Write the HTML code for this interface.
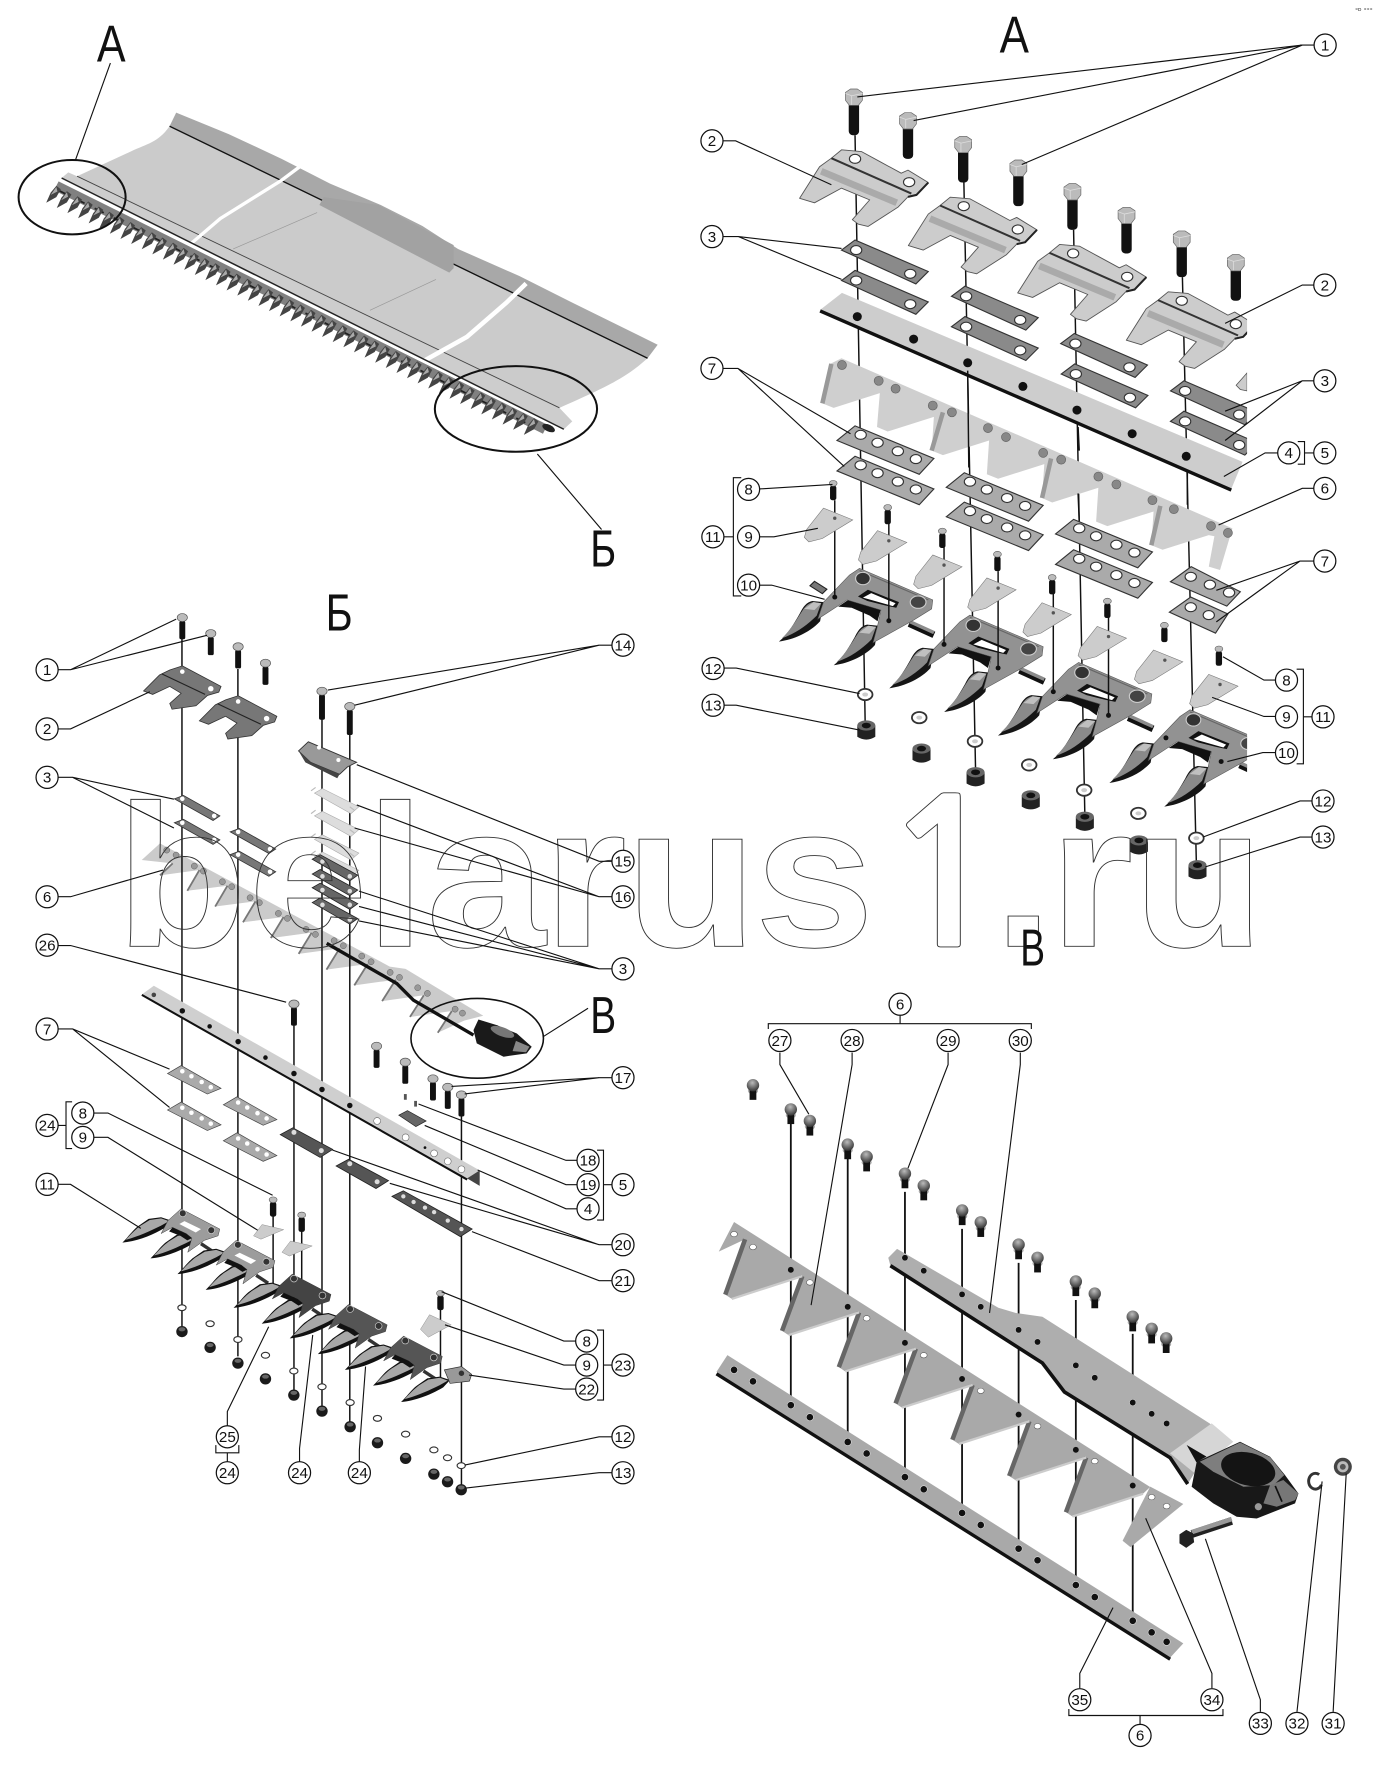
<!DOCTYPE html>
<html><head><meta charset="utf-8"><style>
html,body{margin:0;padding:0;background:#fff;width:1380px;height:1775px;overflow:hidden}
svg{display:block}
.l{stroke:#111;stroke-width:1;fill:none}
.c{stroke:#111;stroke-width:1.1;fill:#fff}
.t text{font:13.5px "Liberation Sans",sans-serif;text-anchor:middle;fill:#111}
.big{font:46px "Liberation Sans","Noto Sans CJK SC",sans-serif;fill:#111}
.v{stroke:#111;stroke-width:1.3;fill:none}
</style></head><body>
<svg xmlns="http://www.w3.org/2000/svg" width="1380" height="1775" viewBox="0 0 1225 1575.6">
<defs>
<clipPath id="clipA"><rect x="600" y="0" width="507" height="900"/></clipPath>
<radialGradient id="rg" cx=".45" cy=".3" r=".7"><stop offset="0" stop-color="#bbb"/><stop offset="1" stop-color="#333"/></radialGradient>
<g id="tooth"><path d="M0,0L4,-9L9,-15L13,-12L9,-5Z" fill="#444"/><path d="M4,-7L9,-14L10,-10Z" fill="#aaa"/></g>
<g id="b"><rect x="-4.6" y="4" width="9.2" height="30" rx="3.6" fill="#111"/><path d="M-7.5,-4L-3,-7L3,-7L7.5,-4L7.5,3L4,7.5L-4,7.5L-7.5,3Z" fill="#bbb" stroke="#666" stroke-width=".6"/><path d="M-7.5,-3L-2,-1L-2,7M-2,-1L7.5,-3" stroke="#ddd" stroke-width=".7" fill="none"/></g>
<g id="c"><rect x="-2.8" y="2" width="5.6" height="13" rx="2" fill="#111"/><ellipse rx="3.5" ry="2.6" fill="#bbb" stroke="#555" stroke-width=".5"/></g>
<g id="n"><path d="M-8,-5L-8,5Q0,10 8,5L8,-5Z" fill="#222"/><ellipse cy="-5" rx="8" ry="4.5" fill="#666"/><ellipse cy="-5" rx="4" ry="2.5" fill="#111"/></g>
<g id="w"><ellipse rx="6.5" ry="5" fill="#fff" stroke="#333" stroke-width="1.6"/><ellipse rx="2.6" ry="1.8" fill="#ccc"/></g>
<g id="p2"><path d="M-12,-8L5.6,-6.5L22,2.4L41,12.7L47,10L65,21L54.5,32L47,33.7L38,43L11.5,60L3,58L-2.4,54L13,36.4L-12,26L-36,39L-49.2,35L-31.5,7L-21,-.6Z" fill="#ccc" stroke="#555" stroke-width=".8" stroke-linejoin="round"/><line x1="-30" y1="11" x2="37" y2="39" stroke="#aaa" stroke-width="6"/><line x1="-21" y1="-.6" x2="50" y2="30.8" stroke="#333" stroke-width="1.8"/><path d="M47,33.7L54.5,32L65,21" stroke="#222" stroke-width="1.8" fill="none"/><ellipse rx="5" ry="4" fill="#fff" stroke="#333"/><ellipse cx="48" cy="20.7" rx="5" ry="4" fill="#fff" stroke="#333"/></g>
<g id="s3"><path d="M-13,0L-1,-9L64,19L53,30Z" fill="#8a8a8a" stroke="#333"/><ellipse rx="5" ry="4" fill="#fff" stroke="#333"/><ellipse cx="48" cy="21" rx="5" ry="4" fill="#fff" stroke="#333"/></g>
<g id="p7"><path d="M-21,5L-5,-8L65,21L52,35Z" fill="#aaa" stroke="#333"/><ellipse rx="5" ry="4" fill="#fff" stroke="#333"/><ellipse cx="15" cy="7" rx="5" ry="4" fill="#fff" stroke="#333"/><ellipse cx="33" cy="14.5" rx="5" ry="4" fill="#fff" stroke="#333"/><ellipse cx="49" cy="21.5" rx="5" ry="4" fill="#fff" stroke="#333"/></g>
<g id="p9"><path d="M-10,-9L16,1.5L-11,18L-23,21L-27,17L-25,10Z" fill="#ccc" stroke="#777" stroke-width=".5"/><circle r="1.5" fill="#555"/></g>
<g id="tg"><path d="M-74.6,56C-66,49 -60,38 -56,31C-53,25 -50,21 -45,20L-35,21L-38,38C-46,47 -60,54 -74.6,56Z" fill="#151515"/><path d="M-72,53C-64,46 -58,35 -54,29C-51,24 -47,21 -43,21L-37,22L-41,33C-50,42 -60,49 -72,53Z" fill="#8a8a8a"/><path d="M-52,27L-44,21L-37,22L-43,28Z" fill="#c0c0c0"/></g>
<g id="ga"><line x1="41" y1="40" x2="63" y2="50" stroke="#111" stroke-width="6"/><line x1="41" y1="38" x2="63" y2="48" stroke="#8c8c8c" stroke-width="3"/><path d="M-22,25L-13,19L16,27L13,38L6,33L-10,26Z" fill="#111"/><use href="#tg"/><use href="#tg" x="48.7" y="21"/><path d="M-3,-9L62,19L61,27L45,37L9,57L13,42L16,28L-14,19L-40,36L-35,21L-12,-3Z" fill="#929292" stroke="#555" stroke-width=".5"/><path d="M-4.4,16L4.4,10L32,21L29.6,26L20,24L4,20Z" fill="#111"/><path d="M0,17L7.4,13L29,22L26.6,24.5Z" fill="#fff"/><path d="M-3,-7L58,19" stroke="#666" stroke-width="1" fill="none"/><ellipse rx="6.5" ry="5.5" fill="#333" stroke="#ccc"/><ellipse cx="49" cy="21" rx="7" ry="5.5" fill="#444" stroke="#ccc"/></g>
<g id="b2"><rect x="-2.6" y="3" width="5.2" height="16" rx="1.5" fill="#111"/><ellipse rx="4.5" ry="3.5" fill="#bbb" stroke="#555" stroke-width=".6"/></g>
<g id="b3"><rect x="-2.6" y="3" width="5.2" height="22" rx="1.5" fill="#111"/><ellipse rx="4.5" ry="3.5" fill="#bbb" stroke="#555" stroke-width=".6"/></g>
<g id="q2"><path d="M0,-5L34,13L32,18L22,21L12,30L-9,33L-11,28L-1,19L-11,13L-26,20L-34,17L-20,3L-11,-1.4Z" fill="#777" stroke="#333" stroke-width=".7"/><line x1="-18" y1="2" x2="20" y2="20" stroke="#222"/><circle r="2" fill="#fff"/><circle cx="25" cy="15" r="2.4" fill="#fff"/></g>
<g id="s"><path d="M-7,0L1,-3L33,15L27,19Z" fill="#777" stroke="#333" stroke-width=".7"/><circle r="2" fill="#fff"/><circle cx="28" cy="15" r="2" fill="#fff"/></g>
<g id="d"><path d="M-33,-15L-26,-19L7,-1L0,4Z" fill="#666" stroke="#222" stroke-width=".7"/><circle r="2" fill="#ddd"/><circle cx="-24" cy="-13" r="2" fill="#ddd"/></g>
<g id="li"><path d="M-7,0L0,-4L32,12L25,18Z" fill="#ddd" stroke="#aaa" stroke-width=".5"/><path d="M-10,-2L-6,-5M24,12L28,15" stroke="#bbb" fill="none"/></g>
<g id="s7"><path d="M-13,2L-1,-5L34,15L22,20Z" fill="#aaa" stroke="#444" stroke-width=".6"/><circle r="2" fill="#fff"/><circle cx="8" cy="4.4" r="2" fill="#fff"/><circle cx="17" cy="9.4" r="2" fill="#fff"/><circle cx="25" cy="14" r="2" fill="#fff"/></g>
<g id="d20"><path d="M-12,2L-1,-4L34,15L23,22Z" fill="#555" stroke="#222" stroke-width=".7"/><circle r="2.2" fill="#ddd"/><circle cx="24" cy="16" r="2.2" fill="#ddd"/></g>
<g id="t2"><path d="M-53,26C-47,20 -43,14 -38.5,11L-30,5L-19,3.5L-10,6.5L-16,13C-26,19 -40,25 -53,26Z" fill="#111"/><path d="M-50,23.5C-45,18 -41,14 -37,11L-29,6L-19,4.5L-12,7L-19,11C-29,16 -40,21 -50,23.5Z" fill="#a8a8a8"/></g>
<g id="g2"><line x1="16" y1="27" x2="26.5" y2="34" stroke="#333" stroke-width="3"/><use href="#t2"/><use href="#t2" x="24.7" y="14"/><path d="M-1.5,-4L32.5,14L31,20L19,24L4.4,34.6L8,22L3,18L-9,12.5L-19,18L-13,6.5Z" stroke="#333" stroke-width=".4"/><path d="M-9,12.5L3,18L8,22L4,24L-2,20L-12,16Z" fill="#111"/><circle r="3" fill="#333" stroke="#ccc" stroke-width=".6"/><circle cx="25" cy="15" r="3" fill="#333" stroke="#ccc" stroke-width=".6"/></g>
<g id="n2"><circle r="5" fill="#1a1a1a"/><ellipse cy="-2" rx="3" ry="1.8" fill="#666"/></g>
<g id="w2"><ellipse rx="3.6" ry="2.6" fill="#fff" stroke="#333"/></g>
<g id="r"><ellipse cy="5" rx="4.5" ry="3" fill="#aaa"/><rect x="-3" y="2" width="6" height="11" fill="#111"/><circle r="5.5" fill="url(#rg)"/></g>
</defs>

<!-- overview -->
<g>
<path d="M150.5,112C141,126 130,128 117,134L68.4,156.4L496.6,362C539.6,343 556,335 574.8,318Z" fill="#cbcbcb"/>
<path d="M156.4,100L203,119L250,141L293,163L338,182L375,200.6L406.6,221L461,245L508,268.6L583.8,306L574.8,318L150.5,112Z" fill="#a8a8a8"/>
<line x1="150.5" y1="112" x2="574.8" y2="318" stroke="#111" stroke-width="1.2"/>
<path d="M283.5,182L287.4,175L336,182L402.7,217.6L402.7,238L398.8,242Z" fill="#a2a2a2"/>
<path d="M207,221L281.5,188.7M328.4,275.4L387,248" stroke="#999" stroke-width=".6" fill="none"/>
<path d="M60.6,153L68.4,156.4L496.6,362L508,374L500.5,381L54.7,158Z" fill="#cdcdcd"/>
<line x1="68.4" y1="156.4" x2="496.6" y2="362" stroke="#444" stroke-width=".8"/>
<path d="M266,148L250,160L195.5,194L168,217.6" stroke="#fff" stroke-width="3" fill="none"/>
<path d="M467,251.6L449.6,268.6L414.5,299L371.5,323" stroke="#fff" stroke-width="4" fill="none"/>
<line x1="50" y1="165" x2="484" y2="381" stroke="#808080" stroke-width="9"/>
<line x1="54.7" y1="158" x2="500.5" y2="381" stroke="#222" stroke-width="1.3"/>
<line x1="50" y1="168" x2="470" y2="377" stroke="#222" stroke-width="1.6" stroke-dasharray="9 10"/>
<use href="#tooth" x="41" y="180"/><use href="#tooth" x="50.4" y="184.6"/><use href="#tooth" x="59.8" y="189.2"/><use href="#tooth" x="69.3" y="193.7"/><use href="#tooth" x="78.7" y="198.3"/><use href="#tooth" x="88.1" y="202.9"/><use href="#tooth" x="97.5" y="207.5"/><use href="#tooth" x="106.9" y="212.1"/><use href="#tooth" x="116.4" y="216.6"/><use href="#tooth" x="125.8" y="221.2"/><use href="#tooth" x="135.2" y="225.8"/><use href="#tooth" x="144.6" y="230.4"/><use href="#tooth" x="154" y="235"/><use href="#tooth" x="163.5" y="239.5"/><use href="#tooth" x="172.9" y="244.1"/><use href="#tooth" x="182.3" y="248.7"/><use href="#tooth" x="191.7" y="253.3"/><use href="#tooth" x="201.1" y="257.9"/><use href="#tooth" x="210.6" y="262.4"/><use href="#tooth" x="220" y="267"/><use href="#tooth" x="229.4" y="271.6"/><use href="#tooth" x="238.8" y="276.2"/><use href="#tooth" x="248.2" y="280.8"/><use href="#tooth" x="257.7" y="285.3"/><use href="#tooth" x="267.1" y="289.9"/><use href="#tooth" x="276.5" y="294.5"/><use href="#tooth" x="285.9" y="299.1"/><use href="#tooth" x="295.3" y="303.7"/><use href="#tooth" x="304.8" y="308.2"/><use href="#tooth" x="314.2" y="312.8"/><use href="#tooth" x="323.6" y="317.4"/><use href="#tooth" x="333" y="322"/><use href="#tooth" x="342.4" y="326.6"/><use href="#tooth" x="351.9" y="331.1"/><use href="#tooth" x="361.3" y="335.7"/><use href="#tooth" x="370.7" y="340.3"/><use href="#tooth" x="380.1" y="344.9"/><use href="#tooth" x="389.5" y="349.5"/><use href="#tooth" x="399" y="354"/><use href="#tooth" x="408.4" y="358.6"/><use href="#tooth" x="417.8" y="363.2"/><use href="#tooth" x="427.2" y="367.8"/><use href="#tooth" x="436.6" y="372.4"/><use href="#tooth" x="446.1" y="376.9"/><use href="#tooth" x="455.5" y="381.5"/><use href="#tooth" x="465" y="386"/>
<ellipse cx="487" cy="380" rx="6" ry="3" fill="#222" transform="rotate(25 487 380)"/>
<ellipse cx="64" cy="175" rx="47.5" ry="33" fill="none" stroke="#111" stroke-width="1.8"/>
<ellipse cx="458" cy="363" rx="72" ry="38" fill="none" stroke="#111" stroke-width="1.8"/>
<path d="M98,56L67,142M477,403L534,470" class="l"/>
</g>

<!-- section A -->
<g clip-path="url(#clipA)">
<path d="M759,120L768,642M855.6,161L866,684M953,204L963,724M1049.6,246L1062,766.5" class="v"/>
<path d="M747.4,260L728,275L1093,434L1103,410Z" fill="#cdcdcd"/>
<line x1="728" y1="276" x2="1093" y2="435" stroke="#111" stroke-width="3"/>
<g fill="#111"><circle cx="761" cy="281" r="4"/><circle cx="811" cy="301" r="4"/><circle cx="859" cy="322" r="4"/><circle cx="908" cy="343" r="4"/><circle cx="956" cy="364" r="4"/><circle cx="1005" cy="385" r="4"/><circle cx="1053" cy="405" r="4"/></g>
<path d="M737.6,322.6L747,318L1094,469L1083,506L1073,503L1078,476L1073,475L1032,488L1022,484L1024,454L983,467L973,463L975,433L934,446L925,442L927,412L886,425L876,421L878,391L837,404L827,400L829,370L788,383L778.5,379L781,349L740,362L730,358Z" fill="#cfcfcf"/>
<path d="M738,323L730,358M837,366L827,400M933,407L925,442M1030,449L1022,484" stroke="#999" stroke-width="4" fill="none"/>
<path d="M859,329L860,415M957,379L958,400M957,438L958,462M1054,417L1054,448" class="v"/>
<g fill="#888" stroke="#666" stroke-width=".6"><circle cx="747.4" cy="324" r="4"/><circle cx="780" cy="338" r="4"/><circle cx="795" cy="345" r="4"/><circle cx="828" cy="360" r="4"/><circle cx="845" cy="366" r="4"/><circle cx="877" cy="380" r="4"/><circle cx="893" cy="388" r="4"/><circle cx="926" cy="402" r="4"/><circle cx="942" cy="408" r="4"/><circle cx="975" cy="423" r="4"/><circle cx="991" cy="430" r="4"/><circle cx="1023" cy="444" r="4"/><circle cx="1042" cy="452" r="4"/><circle cx="1075" cy="467" r="4"/><circle cx="1090" cy="473" r="4"/></g>
<use href="#b" x="758" y="86"/><use href="#b" x="806" y="107"/><use href="#b" x="855" y="128"/><use href="#b" x="904" y="149"/><use href="#b" x="952" y="170"/><use href="#b" x="1000" y="191"/><use href="#b" x="1049" y="212"/><use href="#b" x="1097" y="233"/>
<use href="#p2" x="759" y="141"/><use href="#p2" x="855.5" y="183"/><use href="#p2" x="952.6" y="225"/><use href="#p2" x="1049" y="267"/>
<path d="M1107,331L1097.3,342L1101,345.7L1107,347Z" fill="#ccc" stroke="#555" stroke-width=".7"/>
<use href="#s3" x="760" y="222"/><use href="#s3" x="760" y="249"/><use href="#s3" x="857.6" y="263"/><use href="#s3" x="857.6" y="290"/><use href="#s3" x="954.6" y="305"/><use href="#s3" x="955" y="332"/><use href="#s3" x="1052" y="347"/><use href="#s3" x="1052" y="374"/>
<use href="#p7" x="764" y="386"/><use href="#p7" x="764" y="413"/><use href="#p7" x="861" y="427.6"/><use href="#p7" x="861" y="453.7"/><use href="#p7" x="958" y="469"/><use href="#p7" x="958" y="496"/>
<path d="M1039,516.4L1057.4,503L1101,525.3L1089,538Z" fill="#aaa" stroke="#333"/><g fill="#fff" stroke="#333"><ellipse cx="1057" cy="512" rx="5" ry="4"/><ellipse cx="1074" cy="519" rx="5" ry="4"/><ellipse cx="1091" cy="526" rx="5" ry="4"/></g>
<path d="M1038,543.4L1057,530L1090,545L1079,562Z" fill="#aaa" stroke="#333"/><g fill="#fff" stroke="#333"><ellipse cx="1057" cy="539" rx="5" ry="4"/><ellipse cx="1073" cy="546" rx="5" ry="4"/></g>
<use href="#ga" x="766" y="513.5"/>
<path d="M719,520L723,516L734,523L730,527Z" fill="#777" stroke="#222" stroke-width="1"/>
<use href="#ga" x="864" y="555"/><use href="#ga" x="960.5" y="597"/><use href="#ga" x="1059.4" y="639"/>
<g>
<path d="M741,444V528M789,465V549M838,486V571M886,507V592M935,527V613M984,548V634" class="v"/>
<g fill="#111"><circle cx="741" cy="530" r="2.2"/><circle cx="789" cy="551" r="2.2"/><circle cx="838" cy="572" r="2.2"/><circle cx="886" cy="593" r="2.2"/><circle cx="935" cy="614" r="2.2"/><circle cx="984" cy="635" r="2.2"/><circle cx="1035" cy="655" r="2.2"/><circle cx="1084" cy="676" r="2.2"/></g>
<use href="#p9" x="741" y="460"/><use href="#p9" x="789" y="480"/><use href="#p9" x="838" y="501.6"/><use href="#p9" x="886" y="522"/><use href="#p9" x="935" y="544"/><use href="#p9" x="984" y="565"/><use href="#p9" x="1034" y="586"/><use href="#p9" x="1083" y="607.6"/>
<use href="#c" x="739.6" y="429"/><use href="#c" x="788" y="450.4"/><use href="#c" x="836.5" y="471.4"/><use href="#c" x="885.4" y="492"/><use href="#c" x="934" y="512.6"/><use href="#c" x="983" y="533.6"/><use href="#c" x="1033.6" y="555"/><use href="#c" x="1082" y="576"/>
</g>
<use href="#w" x="768" y="616.5"/><use href="#w" x="816" y="637"/><use href="#w" x="865.5" y="658"/><use href="#w" x="913.6" y="679"/><use href="#w" x="962.4" y="701.4"/><use href="#w" x="1010.5" y="722"/><use href="#w" x="1062" y="744"/>
<use href="#n" x="769" y="649"/><use href="#n" x="818" y="669.5"/><use href="#n" x="866" y="690.5"/><use href="#n" x="915" y="711"/><use href="#n" x="963" y="730"/><use href="#n" x="1011" y="751"/><use href="#n" x="1063" y="773"/>
</g>

<!-- section B blade (true coordinates) -->
<path d="M125.8,763.4L142,748.6L346,858L360,860L429,901.6L412,906L388.6,916.7L401.1,897.4L363.9,902.7L376.2,883.5L339.2,888.7L351.3,869.6L314.5,874.7L326.4,855.7L289.8,860.7L301.5,841.8L265.1,846.7L276.6,827.9L240.4,832.7L251.7,814L215.7,818.7L226.8,800.1L191,804.7L201.9,786.2L166.3,790.7L177,772.3L142,777L153.3,766.4Z" fill="#cbcbcb"/>
<path d="M177,772.3L166.3,790.7M201.9,786.2L191,804.7M226.8,800.1L215.7,818.7M251.7,814L240.4,832.7M276.6,827.9L265.1,846.7M301.5,841.8L289.8,860.7M326.4,855.7L314.5,874.7M351.3,869.6L339.2,888.7M376.2,883.5L363.9,902.7M401.1,897.4L388.6,916.7M153.3,766.4L142,777" stroke="#777" stroke-width="1.6" fill="none"/>
<g fill="#999" stroke="#555" stroke-width=".4"><circle cx="148" cy="754.6" r="2.7"/><circle cx="156.3" cy="759" r="2.7"/><circle cx="172.5" cy="768.8" r="2.7"/><circle cx="180.5" cy="773.2" r="2.7"/><circle cx="197.4" cy="782.7" r="2.7"/><circle cx="205.7" cy="787.1" r="2.7"/><circle cx="222" cy="796.9" r="2.7"/><circle cx="230.2" cy="801.3" r="2.7"/><circle cx="247.1" cy="810.8" r="2.7"/><circle cx="255.1" cy="815.2" r="2.7"/><circle cx="271.7" cy="825" r="2.7"/><circle cx="280" cy="829.4" r="2.7"/><circle cx="296.6" cy="835" r="2.7"/><circle cx="304.8" cy="839.5" r="2.7"/><circle cx="321.1" cy="848.7" r="2.7"/><circle cx="329.4" cy="853.7" r="2.7"/><circle cx="346.3" cy="863.2" r="2.7"/><circle cx="354.6" cy="867.6" r="2.7"/><circle cx="370.8" cy="876.8" r="2.7"/><circle cx="379.4" cy="881.8" r="2.7"/><circle cx="404" cy="895.8" r="2.7"/><circle cx="410.5" cy="899.3" r="2.7"/></g>
<path d="M290,837.4L352.2,873L367,887.8L420.3,918.8" stroke="#111" stroke-width="3" fill="none"/>
<path d="M420.3,914.4L424.7,905L441,910L458.8,917.4L472,929.2L467.6,935L447,938L423.2,926.2Z" fill="#1a1a1a"/>
<ellipse cx="446" cy="916" rx="11" ry="4" fill="#777" transform="rotate(20 446 916)"/>
<path d="M458,924L470,929L467,934L455,933Z" fill="#888"/>
<ellipse cx="423.6" cy="921.7" rx="58.8" ry="35.4" fill="none" stroke="#111" stroke-width="1.4"/>

<g transform="matrix(1.0114 0 0 1 0 0)">
<path d="M159.7,566.6V1177M208.8,593.8V1204M258,908V1234M282.6,636.3V1249M307,651.6V1262M405,990V1320" class="v"/>
</g>

<g transform="matrix(1.0114 0 0 1.0119 0 -6.34)">
<use href="#b2" x="160" y="548"/><use href="#b2" x="185" y="562"/><use href="#b2" x="209" y="573.6"/><use href="#b2" x="233" y="588"/>
<use href="#b3" x="282.6" y="612.6"/><use href="#b3" x="307" y="626"/><use href="#b2" x="258" y="887"/>
<use href="#q2" x="160" y="595.4"/><use href="#q2" x="209" y="621.6"/>
<use href="#s" x="160" y="707"/><use href="#s" x="160" y="728"/><use href="#s" x="209" y="736"/><use href="#s" x="209" y="756"/>
<use href="#li" x="283" y="702"/><use href="#li" x="283" y="722"/><use href="#li" x="283" y="742.6"/><use href="#li" x="283" y="757.7"/>
<path d="M262,665L270.6,657L313,675L305,679L298,685.5L272.6,675Z" fill="#999" stroke="#333" stroke-width=".8"/>
<path d="M262,665L272.6,675L298,685.5L296,689L268,675Z" fill="#444"/>
<circle cx="280" cy="662" r="1.8" fill="#fff"/><circle cx="297" cy="673" r="1.8" fill="#fff"/>
<use href="#d" x="307" y="775"/><use href="#d" x="307" y="788"/><use href="#d" x="307" y="800"/><use href="#d" x="307" y="813"/>
<path d="M135,871L421,1033L410,1040L124.5,878.7Z" fill="#cfcfcf"/>
<line x1="124.5" y1="879" x2="410" y2="1041" stroke="#111" stroke-width="1.8"/>
<path d="M410,1040L421,1033L421,1046.6Z" fill="#444"/>
<g fill="#111"><circle cx="160" cy="893" r="2.4"/><circle cx="184" cy="906.6" r="2"/><circle cx="209" cy="920" r="2.4"/><circle cx="233" cy="934" r="2"/><circle cx="258" cy="948" r="2.4"/><circle cx="282.6" cy="962" r="2.4"/><circle cx="307" cy="976" r="2.4"/><circle cx="135" cy="879" r="2" fill="#444"/><circle cx="373" cy="1013" r="1.2"/></g>
<g fill="#fff" stroke="#666" stroke-width=".5"><circle cx="331" cy="989.6" r="3"/><circle cx="356" cy="1004" r="3"/><circle cx="381" cy="1018" r="3"/><circle cx="393" cy="1025" r="3"/><circle cx="405" cy="1032" r="3"/></g>
<use href="#s7" x="160" y="946"/><use href="#s7" x="160" y="978"/><use href="#s7" x="209" y="973.4"/><use href="#s7" x="209" y="1005"/>
<use href="#d20" x="258" y="999.6"/>
<path d="M350,984.5L357.6,980.5L374,989.6L365,994.6Z" fill="#666" stroke="#222" stroke-width=".6"/>
<use href="#b2" x="330.5" y="924"/><use href="#b2" x="355.7" y="938"/><use href="#b2" x="380" y="952.6"/><use href="#b2" x="393" y="960"/><use href="#b2" x="405" y="966.7"/>
<rect x="354.5" y="966" width="2.5" height="5" fill="#555"/><rect x="363.5" y="972" width="2.5" height="5" fill="#555"/>
</g>

<g transform="matrix(1.0114 0 0 1 0 0)">
<use href="#d20" x="307" y="1033"/>
<path d="M344,1062L354,1057L414.4,1091L404,1097.7Z" fill="#555" stroke="#222" stroke-width=".7"/>
<g fill="#ddd"><circle cx="354" cy="1062" r="1.9"/><circle cx="363" cy="1067" r="1.9"/><circle cx="373" cy="1072" r="1.9"/><circle cx="381" cy="1076" r="1.9"/><circle cx="393" cy="1083.5" r="1.9"/><circle cx="405" cy="1091" r="1.9"/></g>
<path d="M386.6,1152V1225M239.7,1069V1140M264.8,1083V1154" class="v"/>
<use href="#g2" x="160.4" y="1077" fill="#9c9c9c"/><path d="M157.4,1086.5L161.9,1084L176.4,1091L171.8,1094Z" fill="#fff"/>
<use href="#g2" x="208.8" y="1105" fill="#9c9c9c"/><path d="M205.8,1114.5L210.3,1112L224.8,1119L220.2,1122Z" fill="#fff"/>
<use href="#g2" x="258" y="1135" fill="#444"/>
<use href="#g2" x="307.3" y="1162" fill="#555"/>
<use href="#g2" x="355.7" y="1190" fill="#555"/>
<use href="#t2" x="405" y="1218.5"/>
<path d="M390,1216L405,1213L414,1220L412,1226L395,1228Z" fill="#999" stroke="#333" stroke-width=".6"/><circle cx="405" cy="1219" r="2.4" fill="#333"/>
<path d="M222.5,1097L230,1087L249,1091.5L229,1100Z" fill="#ccc" stroke="#888" stroke-width=".4"/>
<path d="M247.5,1111.6L255,1101.6L274,1106L254,1115Z" fill="#ccc" stroke="#888" stroke-width=".4"/>
<path d="M369,1180L377,1167L396,1176L376,1187Z" fill="#ccc" stroke="#888" stroke-width=".4"/>
<use href="#c" x="239.7" y="1065"/><use href="#c" x="264.8" y="1078.5"/><use href="#c" x="386.6" y="1148"/>
<use href="#w2" x="159.7" y="1160.8"/><use href="#w2" x="184.4" y="1175"/><use href="#w2" x="208.8" y="1189"/><use href="#w2" x="233" y="1203"/><use href="#w2" x="257.9" y="1217"/><use href="#w2" x="282.6" y="1231"/><use href="#w2" x="307.3" y="1245"/><use href="#w2" x="331.3" y="1259"/><use href="#w2" x="356" y="1273"/><use href="#w2" x="380.8" y="1287"/><use href="#w2" x="392.8" y="1294"/><use href="#w2" x="404.8" y="1301"/>
<use href="#n2" x="159.7" y="1182"/><use href="#n2" x="184.4" y="1196"/><use href="#n2" x="208.8" y="1210"/><use href="#n2" x="233" y="1224"/><use href="#n2" x="257.9" y="1238.4"/><use href="#n2" x="282.6" y="1252.6"/><use href="#n2" x="307.3" y="1266.5"/><use href="#n2" x="331.3" y="1280.7"/><use href="#n2" x="356" y="1294.6"/><use href="#n2" x="380.8" y="1308.5"/><use href="#n2" x="392.8" y="1315.3"/><use href="#n2" x="404.8" y="1322.4"/>
</g>

<!-- section V -->
<g>
<path d="M702,995V1249.6M752.5,1027.8V1280M803.3,1058V1310.3M854,1090.8V1343M904.2,1121V1374.7M955,1154V1406M1005.5,1184V1438.7" stroke="#111" stroke-width="1.6" fill="none"/>
<path d="M645.7,1202.9L636,1217.8L1038.7,1471.4L1050.4,1458.8Z" fill="#a9a9a9"/>
<line x1="636" y1="1219.5" x2="1038.7" y2="1472.8" stroke="#111" stroke-width="3"/>
<g fill="#111" stroke="#ddd" stroke-width=".5"><circle cx="651.6" cy="1216" r="3.2"/><circle cx="668.4" cy="1226.2" r="3.2"/><circle cx="702" cy="1247.3" r="3.2"/><circle cx="718.9" cy="1258" r="3.2"/><circle cx="752.5" cy="1280" r="3.2"/><circle cx="769.3" cy="1290.2" r="3.2"/><circle cx="803.3" cy="1311.2" r="3.2"/><circle cx="820" cy="1322" r="3.2"/><circle cx="854" cy="1343" r="3.2"/><circle cx="870.6" cy="1353.7" r="3.2"/><circle cx="904.2" cy="1374.7" r="3.2"/><circle cx="921" cy="1385" r="3.2"/><circle cx="955" cy="1407" r="3.2"/><circle cx="971.8" cy="1417.7" r="3.2"/><circle cx="1005.5" cy="1438.7" r="3.2"/><circle cx="1022.3" cy="1449" r="3.2"/><circle cx="1035.6" cy="1457.4" r="3.2"/></g>
<path d="M638,1111L651.6,1084.7L1021,1320L1014.6,1326L952,1346.2L946.2,1342.4L964.2,1293.8L901.6,1314L895.8,1310.2L913.8,1261.6L851.2,1281.8L845.4,1278L863.4,1229.4L800.8,1249.6L795,1245.8L813,1197.2L750.4,1217.4L744.6,1213.6L762.6,1165L700,1185.2L694.2,1181.4L712.2,1132.8L649.6,1153L643.8,1149.2L661.4,1100Z" fill="#a9a9a9"/>
<path d="M661.4,1100L643.8,1149.2M712.2,1132.8L694.2,1181.4M762.6,1165L744.6,1213.6M813,1197.2L795,1245.8M863.4,1229.4L845.4,1278M913.8,1261.6L895.8,1310.2M964.2,1293.8L946.2,1342.4" stroke="#666" stroke-width="4" fill="none"/>
<path d="M649.6,1153L712.2,1132.8M700,1185.2L762.6,1165M750.4,1217.4L813,1197.2M800.8,1249.6L863.4,1229.4M851.2,1281.8L913.8,1261.6M901.6,1314L964.2,1293.8M952,1346.2L1014.6,1326" stroke="#ccc" stroke-width="2" fill="none"/>
<path d="M1021,1319.6L1050.4,1335L1003.5,1373.3L996.5,1367.7Z" fill="#a9a9a9"/>
<g fill="#fff" stroke="#555" stroke-width=".5"><ellipse cx="651.6" cy="1095.5" rx="3" ry="2.4"/><ellipse cx="668.4" cy="1107" rx="3" ry="2.4"/><ellipse cx="718.9" cy="1138.4" rx="3" ry="2.4"/><ellipse cx="769.3" cy="1170.2" rx="3" ry="2.4"/><ellipse cx="820" cy="1203" rx="3" ry="2.4"/><ellipse cx="870.6" cy="1234.6" rx="3" ry="2.4"/><ellipse cx="921" cy="1266" rx="3" ry="2.4"/><ellipse cx="971.8" cy="1297" rx="3" ry="2.4"/><ellipse cx="1022.3" cy="1329" rx="3" ry="2.4"/><ellipse cx="1035.6" cy="1337" rx="3" ry="2.4"/></g>
<g fill="#111"><circle cx="702" cy="1127.2" r="2.6"/><circle cx="752.5" cy="1160" r="2.6"/><circle cx="803.3" cy="1192" r="2.6"/><circle cx="854" cy="1224" r="2.6"/><circle cx="904.2" cy="1255.7" r="2.6"/><circle cx="955" cy="1287" r="2.6"/><circle cx="1005.5" cy="1318.7" r="2.6"/></g>
<path d="M796.3,1108.6L886.2,1160.9L901.8,1165.5L925.3,1168.8L1073.9,1263.6L1091.5,1280L1070,1291.6L1054.3,1317.3L1038.7,1294L944.9,1235.6L925.3,1209.9L790.4,1123.5L788.5,1116.5Z" fill="#aeaeae"/>
<path d="M1038.6,1290L1075.6,1263.5L1094.8,1279.8L1060.8,1308Z" fill="#d6d6d6"/>
<path d="M790.4,1123.5L925.3,1209.9L944.9,1235.6L1038.7,1294L1054.3,1317.3" stroke="#111" stroke-width="3.2" fill="none"/>
<path d="M1053.4,1282.7L1071,1293L1062,1298Z" fill="#111"/>
<g fill="#111" stroke="#ddd" stroke-width=".4"><circle cx="803.3" cy="1116.5" r="2.8"/><circle cx="820" cy="1128" r="2.8"/><circle cx="854" cy="1149" r="2.8"/><circle cx="870.6" cy="1160" r="2.8"/><circle cx="904.2" cy="1180.5" r="2.8"/><circle cx="921" cy="1191.2" r="2.8"/><circle cx="955" cy="1212" r="2.8"/><circle cx="971.8" cy="1223" r="2.8"/><circle cx="1005.5" cy="1245" r="2.8"/><circle cx="1022.3" cy="1255" r="2.8"/><circle cx="1035.6" cy="1263.6" r="2.8"/></g>
<path d="M1062.3,1297.5L1100.8,1279.8L1127.4,1293.1L1140.7,1309.4L1152.6,1325.7L1149.6,1334.5L1115.6,1347.9L1097.8,1346.4L1077,1334.5L1057.8,1319.7Z" fill="#181818"/>
<path d="M1065,1297.5L1100.8,1280.5L1127.4,1293.6L1140,1309.4L1130.4,1318.3L1103.7,1319.7L1077,1306.4Z" fill="#7e7e7e"/>
<ellipse cx="1108" cy="1304" rx="24.5" ry="14.5" fill="#141414" transform="rotate(14 1108 1304)"/>
<path d="M1127.4,1318.3L1139.2,1313.8L1152.6,1325.7L1149.6,1331.6L1133.3,1337.5L1121.5,1334.5Z" fill="#777"/>
<path d="M1132,1319L1138,1333" stroke="#111" stroke-width="1.5"/>
<ellipse cx="1117" cy="1337.5" rx="3.2" ry="3.2" fill="#999"/>
<use href="#r" x="668.4" y="963.3"/><use href="#r" x="702" y="984.8"/><use href="#r" x="718.9" y="995"/><use href="#r" x="752.5" y="1016"/><use href="#r" x="769.3" y="1026.8"/><use href="#r" x="803.3" y="1041.8"/><use href="#r" x="820" y="1052.5"/><use href="#r" x="854.1" y="1074.5"/><use href="#r" x="870.6" y="1085"/><use href="#r" x="904.2" y="1104.8"/><use href="#r" x="921" y="1116.5"/><use href="#r" x="955" y="1137.5"/><use href="#r" x="971.8" y="1148.3"/><use href="#r" x="1005.5" y="1168.8"/><use href="#r" x="1022.3" y="1179.5"/><use href="#r" x="1035.2" y="1188"/>
<line x1="1058" y1="1361.7" x2="1093.4" y2="1350" stroke="#222" stroke-width="7"/><line x1="1058" y1="1360" x2="1093.4" y2="1348.5" stroke="#999" stroke-width="4"/>
<path d="M1047,1362L1053,1358L1059,1361L1060,1369L1053,1374L1047,1370Z" fill="#222"/>
<path d="M1171,1309A6,7 0 1 0 1173,1318" fill="none" stroke="#333" stroke-width="2.6"/>
<circle cx="1192" cy="1302" r="8" fill="#444"/><circle cx="1192" cy="1302" r="5" fill="#bbb"/><circle cx="1192" cy="1302" r="2.6" fill="#555"/>
</g>

<!-- watermark -->
<text transform="scale(1.06 1)" x="97 208 306 357 455 524 632 736 832 879 949" y="840" font-family="'Liberation Sans',sans-serif" font-weight="bold" font-size="180" fill="none" stroke="#333" stroke-width=".8">belarus<tspan font-family="'NanumGothic',sans-serif">1</tspan>.ru</text>

<!-- leaders -->
<path class="l" stroke-width="1.1" d="M1166,40H1156L761,86M1156,40L811,107M1156,40L907,146M642,125H653L738,164M642,210H655.5L747,220.5M655.5,210L747,248M642,327H655L755,385M655,327L749.4,414M1166,253H1156L1087.5,287M1166,338H1156L1087.5,365M1156,338L1087.5,391M1134,402H1123L1086.4,423M1152,392H1158V412H1152M1158,402H1166M1166,433.5H1156L1081.7,466M1166,498H1154L1079.7,524M1154,498L1079.7,552M674,434L739,430M674,476.5H687L726,469M674,519.4H685L732,532M643,593H653.5L763,615.6M643,626H653.5L763,648M1132.5,603.7H1122L1085.6,583M1132.5,636H1122L1076,619M1132.5,668H1121L1089.5,676M1164.6,711H1154L1068,743M1164.6,743H1154L1070,769.5M658,424H651V529H658M642,476.5H651M1151,594H1157V678H1151M1157,636.3H1164.6"/>
<path class="l" stroke-width="1.1" d="M51.6,594.5H62.6L156.4,549.6M62.6,594.5L183.8,563.9M51.6,647H62.6L133,614M51.6,690H64.5L154.4,709.4M64.5,690L154.4,735M51.6,796H62.6L144.7,772.3M51.6,839.3H62.6L254,889.6M51.6,913.4H64.5L150.5,949M64.5,913.4L150.5,983M83.3,988H95.8L242,1061M83.3,1009.6H95.8L228.7,1092M64,978H58.6V1019.5H64M51.6,999H58.6M51.6,1051.3H62.6L125,1090.4M543.5,572.7H531.8L291,612.5M531.8,572.7L314.8,626M543.5,764.5H531.8L316.7,678.8M543.5,796H531.8L316.7,714.5M531.8,796L314.8,735M543.5,860H531.8L318.7,791M531.8,860L318.7,804.6M531.8,860L318.7,817.5M543.5,956.6H531.8L400.8,964.4M531.8,956.6L412.5,971M512,1030H502.4L371.5,980M512,1051.6H502.4L377,999M512,1073H502.4L424,1038.6M530,1021H535.7V1083H530M535.7,1051.6H543.5M543.5,1104.9H531.8L346,1050.4M531.8,1104.9L295,1020.8M543.5,1136.8H531.8L419,1093.3M512,1190.4H500.5L392,1146.6M512,1211.7H500.5L395,1176M512,1233H500.5L416.4,1220.6M530,1180.6H535.7V1242.8H530M535.7,1211.7H543.5M543.5,1275.4H531.8L412.5,1300.5M543.5,1307.3H531.8L412.5,1321M201.8,1266.5V1253L238.5,1177.7M265.9,1297.6V1285.7L277.6,1185M319,1297.6V1287L324.5,1213M191.6,1282.8V1289.6H212V1282.8M201.8,1289.6V1297.6M482.5,920L522,895"/>
<path class="l" stroke-width="1.1" d="M682,913.4V908.7H915.5V913.4M799,901.5V908.7M948.8,1517V1522.8H1085.6V1517M1012,1522.8V1530.7M692.3,934.4V945L718,989M756.4,934.4V945L720,1158.5M841.6,934.4V945L806,1037M905.7,934.4V945L878.4,1165.5M958.5,1498.5V1485.4L988,1427M1075.8,1498.5V1485.4L1017,1347.7M1118.8,1519.5V1508.8L1070,1366M1151.3,1519.5L1173.6,1315M1183.4,1519.5L1195,1308"/>

<!-- circles -->
<g class="c">
<circle cx="1176.3" cy="40" r="9.8"/><circle cx="632" cy="125" r="9.8"/><circle cx="632" cy="210" r="9.8"/><circle cx="632" cy="327" r="9.8"/><circle cx="1176" cy="253" r="9.8"/><circle cx="1176" cy="338" r="9.8"/><circle cx="1144" cy="402" r="9.8"/><circle cx="1176" cy="402" r="9.8"/><circle cx="1176" cy="433.5" r="9.8"/><circle cx="1176" cy="498" r="9.8"/><circle cx="664.5" cy="434.4" r="9.8"/><circle cx="664.5" cy="476.5" r="9.8"/><circle cx="632.8" cy="476.5" r="9.8"/><circle cx="664.5" cy="519.4" r="9.8"/><circle cx="633" cy="593.4" r="9.8"/><circle cx="633" cy="626" r="9.8"/><circle cx="1142" cy="603.7" r="9.8"/><circle cx="1142" cy="636.3" r="9.8"/><circle cx="1142" cy="668.3" r="9.8"/><circle cx="1174.4" cy="636.3" r="9.8"/><circle cx="1174.4" cy="711" r="9.8"/><circle cx="1174.4" cy="743" r="9.8"/>
<circle cx="41.8" cy="594.5" r="9.8"/><circle cx="41.8" cy="647" r="9.8"/><circle cx="41.8" cy="690" r="9.8"/><circle cx="41.8" cy="796" r="9.8"/><circle cx="41.8" cy="839" r="9.8"/><circle cx="41.8" cy="913.4" r="9.8"/><circle cx="41.8" cy="999" r="9.8"/><circle cx="73.5" cy="988" r="9.8"/><circle cx="73.5" cy="1009.6" r="9.8"/><circle cx="553" cy="572.7" r="9.8"/><circle cx="553" cy="764.5" r="9.8"/><circle cx="553" cy="796" r="9.8"/><circle cx="553" cy="860" r="9.8"/><circle cx="553" cy="956.6" r="9.8"/><circle cx="41.8" cy="1051.3" r="9.8"/><circle cx="522" cy="1030" r="9.8"/><circle cx="522" cy="1051.6" r="9.8"/><circle cx="553" cy="1051.6" r="9.8"/><circle cx="522" cy="1073" r="9.8"/><circle cx="553" cy="1104.9" r="9.8"/><circle cx="553" cy="1136.8" r="9.8"/><circle cx="520.8" cy="1190.4" r="9.8"/><circle cx="520.8" cy="1211.7" r="9.8"/><circle cx="520.8" cy="1233" r="9.8"/><circle cx="553" cy="1211.7" r="9.8"/><circle cx="553" cy="1275.4" r="9.8"/><circle cx="553" cy="1307.3" r="9.8"/><circle cx="201.8" cy="1275.4" r="9.8"/><circle cx="201.8" cy="1307.3" r="9.8"/><circle cx="265.9" cy="1307.3" r="9.8"/><circle cx="319" cy="1307.3" r="9.8"/>
<circle cx="799" cy="891.4" r="9.8"/><circle cx="692.3" cy="923.6" r="9.8"/><circle cx="756.4" cy="923.6" r="9.8"/><circle cx="841.6" cy="923.6" r="9.8"/><circle cx="905.7" cy="923.6" r="9.8"/><circle cx="958.5" cy="1508.8" r="9.8"/><circle cx="1075.8" cy="1508.8" r="9.8"/><circle cx="1012" cy="1540.5" r="9.8"/><circle cx="1118.8" cy="1529.8" r="9.8"/><circle cx="1151.3" cy="1529.8" r="9.8"/><circle cx="1183.4" cy="1529.8" r="9.8"/>
</g>
<g class="t">
<text x="1176.3" y="44.7">1</text><text x="632" y="129.7">2</text><text x="632" y="214.7">3</text><text x="632" y="331.7">7</text><text x="1176" y="257.7">2</text><text x="1176" y="342.7">3</text><text x="1144" y="406.7">4</text><text x="1176" y="406.7">5</text><text x="1176" y="438.2">6</text><text x="1176" y="502.7">7</text><text x="664.5" y="439.1">8</text><text x="664.5" y="481.2">9</text><text x="632.8" y="481.2">11</text><text x="664.5" y="524.1">10</text><text x="633" y="598.1">12</text><text x="633" y="630.7">13</text><text x="1142" y="608.4">8</text><text x="1142" y="641">9</text><text x="1142" y="673">10</text><text x="1174.4" y="641">11</text><text x="1174.4" y="715.7">12</text><text x="1174.4" y="747.7">13</text>
<text x="41.8" y="599.2">1</text><text x="41.8" y="651.7">2</text><text x="41.8" y="694.7">3</text><text x="41.8" y="800.7">6</text><text x="41.8" y="843.7">26</text><text x="41.8" y="918.1">7</text><text x="41.8" y="1003.7">24</text><text x="73.5" y="992.7">8</text><text x="73.5" y="1014.3">9</text><text x="553" y="577.4">14</text><text x="553" y="769.2">15</text><text x="553" y="800.7">16</text><text x="553" y="864.7">3</text><text x="553" y="961.3">17</text><text x="41.8" y="1056">11</text><text x="522" y="1034.7">18</text><text x="522" y="1056.3">19</text><text x="553" y="1056.3">5</text><text x="522" y="1077.7">4</text><text x="553" y="1109.6">20</text><text x="553" y="1141.5">21</text><text x="520.8" y="1195.1">8</text><text x="520.8" y="1216.4">9</text><text x="520.8" y="1237.7">22</text><text x="553" y="1216.4">23</text><text x="553" y="1280.1">12</text><text x="553" y="1312">13</text><text x="201.8" y="1280.1">25</text><text x="201.8" y="1312">24</text><text x="265.9" y="1312">24</text><text x="319" y="1312">24</text>
<text x="799" y="896.1">6</text><text x="692.3" y="928.3">27</text><text x="756.4" y="928.3">28</text><text x="841.6" y="928.3">29</text><text x="905.7" y="928.3">30</text><text x="958.5" y="1513.5">35</text><text x="1075.8" y="1513.5">34</text><text x="1012" y="1545.2">6</text><text x="1118.8" y="1534.5">33</text><text x="1151.3" y="1534.5">32</text><text x="1183.4" y="1534.5">31</text>
</g>

<!-- big letters -->
<text class="big" x="86" y="54.4" textLength="25.5" lengthAdjust="spacingAndGlyphs">А</text>
<text class="big" x="887.4" y="46.5" textLength="26" lengthAdjust="spacingAndGlyphs">А</text>
<text class="big" x="524" y="503" textLength="23" lengthAdjust="spacingAndGlyphs">Б</text>
<text class="big" x="289" y="559.8" textLength="24" lengthAdjust="spacingAndGlyphs">Б</text>
<text class="big" x="524" y="917" textLength="23" lengthAdjust="spacingAndGlyphs">В</text>
<text class="big" x="905.7" y="857" textLength="22" lengthAdjust="spacingAndGlyphs">В</text>
<text x="1203" y="11" font-family="'Liberation Sans',sans-serif" font-size="6" fill="#222" letter-spacing=".3">°ᴰ °°°</text>
</svg>
</body></html>
